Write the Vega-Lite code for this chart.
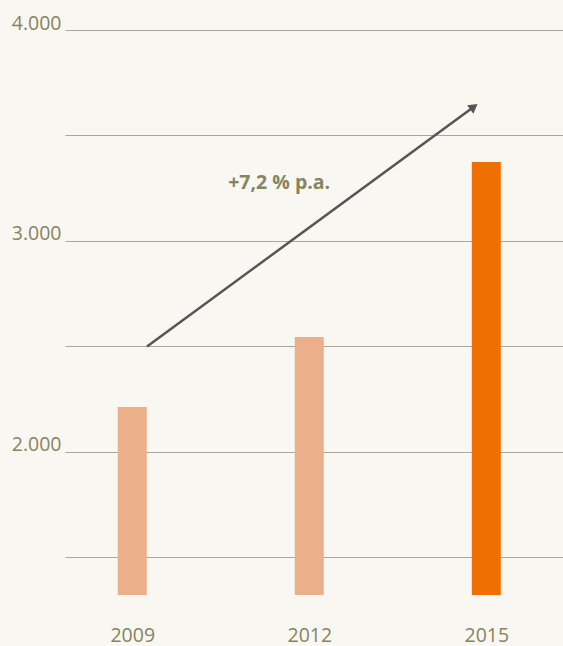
{
  "$schema": "https://vega.github.io/schema/vega-lite/v6.json",
  "autosize": "none",
  "width": 498,
  "height": 565,
  "padding": {"left": 65, "top": 30, "right": 0, "bottom": 51},
  "background": "#f9f7f2",
  "config": {
    "view": {"stroke": null},
    "font": "Open Sans"
  },
  "datasets": {
    "bars": [
      {"year": 2009, "value": 2213, "highlight": "no"},
      {"year": 2012, "value": 2545, "highlight": "no"},
      {"year": 2015, "value": 3374, "highlight": "yes"}
    ],
    "arrow": [
      {"x1": 2009.25, "y1": 2500, "x2": 2014.79, "y2": 3636}
    ],
    "label": [
      {"x": 2011.49, "y": 3275, "text": "+7,2 % p.a."}
    ]
  },
  "layer": [
    {
      "data": {"name": "bars"},
      "mark": {"type": "bar", "width": 29},
      "encoding": {
        "x": {
          "field": "year", "type": "quantitative",
          "scale": {"domain": [2007.86, 2016.3], "nice": false, "zero": false, "padding": 0},
          "axis": {
            "values": [2009, 2012, 2015], "format": "d", "title": null,
            "grid": false, "domain": false, "ticks": false,
            "labelFontSize": 19.5, "labelColor": "#87845f", "labelPadding": 31,
            "labelFlush": false
          }
        },
        "y": {
          "field": "value", "type": "quantitative",
          "scale": {"domain": [1322, 4000], "nice": false, "zero": false},
          "axis": {
            "values": [1500, 2000, 2500, 3000, 3500, 4000], "title": null,
            "domain": false, "ticks": false, "grid": true,
            "gridColor": "#a9a89f", "gridWidth": 1.2,
            "labelExpr": "datum.value % 1000 == 0 ? replace(format(datum.value, ','), ',', '.') : ''",
            "labelFontSize": 19.5, "labelColor": "#87845f", "labelPadding": 4,
            "labelBaseline": "middle", "labelOffset": -7
          }
        },
        "y2": {"datum": 1322},
        "color": {
          "field": "highlight", "type": "nominal",
          "scale": {"domain": ["no", "yes"], "range": ["#ebb08a", "#ef7000"]},
          "legend": null
        }
      }
    },
    {
      "data": {"name": "arrow"},
      "mark": {"type": "rule", "color": "#555555", "strokeWidth": 2.5},
      "encoding": {
        "x": {"field": "x1", "type": "quantitative"},
        "y": {"field": "y1", "type": "quantitative"},
        "x2": {"field": "x2"},
        "y2": {"field": "y2"}
      }
    },
    {
      "data": {"name": "arrow"},
      "mark": {"type": "point", "shape": "triangle-up", "filled": true, "color": "#555555", "opacity": 1, "size": 110, "angle": 53.6},
      "encoding": {
        "x": {"field": "x2", "type": "quantitative"},
        "y": {"field": "y2", "type": "quantitative"}
      }
    },
    {
      "data": {"name": "label"},
      "mark": {"type": "text", "fontWeight": "bold", "fontSize": 19.5, "color": "#87845f", "align": "center", "baseline": "middle"},
      "encoding": {
        "x": {"field": "x", "type": "quantitative"},
        "y": {"field": "y", "type": "quantitative"},
        "text": {"field": "text"}
      }
    }
  ]
}
